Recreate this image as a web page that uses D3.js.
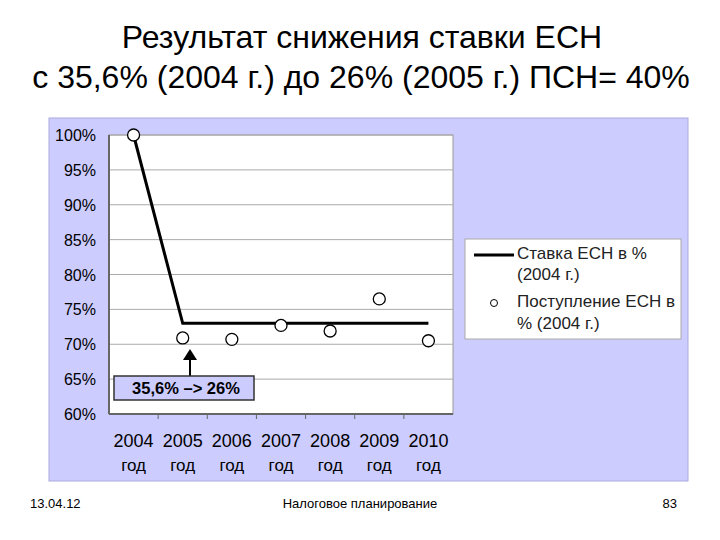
<!DOCTYPE html><html><head><meta charset="utf-8"><script src="https://cdn.jsdelivr.net/npm/d3@7"></script>
<style>body{margin:0;background:#fff}</style></head><body><svg id="c" width="720" height="540"></svg>
<script>
const years=["2004","2005","2006","2007","2008","2009","2010"];
const rate=[100,73,73,73,73,73,73];
const receipts=[100,70.9,70.7,72.7,71.9,76.5,70.5];
const yTicks=[60,65,70,75,80,85,90,95,100];
const svg=d3.select("#c");
const F="Arial, 'Liberation Sans', sans-serif";
svg.append("text").attr("x",362).attr("y",48).attr("text-anchor","middle").attr("font-family",F).attr("font-size",32).text("Результат снижения ставки ЕСН");
svg.append("text").attr("x",361).attr("y",88).attr("text-anchor","middle").attr("font-family",F).attr("font-size",32).text("с 35,6% (2004 г.) до 26% (2005 г.) ПСН= 40%");
svg.append("rect").attr("x",49).attr("y",118).attr("width",639).attr("height",363).attr("fill","#ccccff").attr("stroke","#aaaadd");
const x=d3.scaleBand().domain(years).range([109,453]);
const y=d3.scaleLinear().domain([60,100]).range([414,135]);
svg.append("rect").attr("x",109).attr("y",135).attr("width",344).attr("height",279).attr("fill","#fff").attr("stroke","#999");
svg.append("g").selectAll("line").data(yTicks).join("line").attr("x1",109).attr("x2",453).attr("y1",d=>y(d)).attr("y2",d=>y(d)).attr("stroke","#aaa");
svg.append("line").attr("x1",109).attr("x2",453).attr("y1",414).attr("y2",414).attr("stroke","#666").attr("stroke-width",2);
svg.append("line").attr("x1",109).attr("x2",109).attr("y1",135).attr("y2",414).attr("stroke","#666").attr("stroke-width",2);
svg.append("g").selectAll("line").data(years.slice(1)).join("line").attr("x1",d=>x(d)).attr("x2",d=>x(d)).attr("y1",414).attr("y2",419).attr("stroke","#666");
svg.append("g").selectAll("text").data(yTicks).join("text").attr("x",96).attr("y",d=>y(d)+6).attr("text-anchor","end").attr("font-family",F).attr("font-size",16).text(d=>d+"%");
const xl=svg.append("g").selectAll("g").data(years).join("g");
xl.append("text").attr("x",d=>x(d)+x.bandwidth()/2).attr("y",447).attr("text-anchor","middle").attr("font-family",F).attr("font-size",18).text(d=>d);
xl.append("text").attr("x",d=>x(d)+x.bandwidth()/2).attr("y",471).attr("text-anchor","middle").attr("font-family",F).attr("font-size",17).text("год");
const cx=(d,i)=>x(years[i])+x.bandwidth()/2;
svg.append("path").datum(rate).attr("d",d3.line().x(cx).y(d=>y(d))).attr("fill","none").attr("stroke","#000").attr("stroke-width",3);
svg.append("g").selectAll("circle").data(receipts).join("circle").attr("cx",cx).attr("cy",d=>y(d)).attr("r",6).attr("fill","#fff").attr("stroke","#000").attr("stroke-width",1.3);
svg.append("line").attr("x1",190).attr("x2",190).attr("y1",376).attr("y2",357).attr("stroke","#000").attr("stroke-width",2);
svg.append("path").attr("d","M183,360 L190,349 L197,360 Z").attr("fill","#000");
svg.append("rect").attr("x",114).attr("y",376).attr("width",140).attr("height",24).attr("fill","#ccccff").attr("stroke","#333").attr("stroke-width",1.5);
svg.append("text").attr("x",186).attr("y",394).attr("text-anchor","middle").attr("font-family",F).attr("font-size",16.5).attr("font-weight","bold").text("35,6% –> 26%");
svg.append("rect").attr("x",465).attr("y",239).attr("width",216).attr("height",100).attr("fill","#fff").attr("stroke","#aaa");
svg.append("line").attr("x1",474).attr("x2",514).attr("y1",255).attr("y2",255).attr("stroke","#000").attr("stroke-width",3);
const lt=[["Ставка ЕСН в %",259],["(2004 г.)",280],["Поступление ЕСН в",307],["% (2004 г.)",329]];
svg.append("g").selectAll("text").data(lt).join("text").attr("x",517).attr("y",d=>d[1]).attr("font-family",F).attr("font-size",17).attr("fill","#222").text(d=>d[0]);
svg.append("circle").attr("cx",494).attr("cy",303).attr("r",3.5).attr("fill","#fff").attr("stroke","#000");
svg.append("text").attr("x",30).attr("y",508).attr("font-family",F).attr("font-size",13).text("13.04.12");
svg.append("text").attr("x",360).attr("y",508).attr("text-anchor","middle").attr("font-family",F).attr("font-size",13).text("Налоговое планирование");
svg.append("text").attr("x",677).attr("y",508).attr("text-anchor","end").attr("font-family",F).attr("font-size",13).text("83");
</script></body></html>
